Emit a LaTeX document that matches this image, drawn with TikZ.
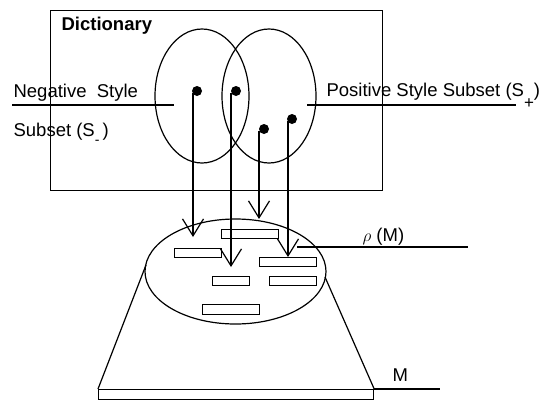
\documentclass[tikz,border=0pt]{standalone}
\usepackage{fontspec}
\setmainfont{Liberation Sans}
\usetikzlibrary{shapes.geometric,arrows.meta}
\newcommand{\lowminus}{\raisebox{-8pt}{\fontsize{14}{14}\selectfont -}}
\newcommand{\lowplus}{\raisebox{-12pt}{\fontsize{17}{17}\selectfont +}}
\begin{document}
\begin{tikzpicture}[x=1pt,y=-1pt,line width=1.2pt,
  lbl/.style={font=\fontsize{18.5}{20}\selectfont,anchor=base west,inner sep=0pt},
  dotnode/.style={circle,fill=black,inner sep=0pt,minimum size=10pt},
  slot/.style={draw,rectangle,inner sep=0pt,anchor=north west},
  venn/.style={draw,ellipse,inner sep=0pt,minimum width=94pt,minimum height=134pt},
  arr/.style={-{Straight Barb[length=17pt,width=21pt,line width=1.2pt]}}]
\useasboundingbox (0,0) rectangle (540,400);
% dictionary box
\node[draw,rectangle,inner sep=0pt,minimum width=332pt,minimum height=180pt,anchor=north west] (dict) at (50,10) {};
\node[lbl,font=\fontsize{18.5}{20}\selectfont\bfseries] (dtitle) at (61,30) {Dictionary};
% Venn ellipses
\node[venn] (L) at (202,96) {};
\node[venn] (R) at (269,96) {};
% labels
\node[lbl] (neg) at (13,97) {Negative\ \ Style};
\node[lbl] (negs) at (13,136) {Subset (S\lowminus\,)};
\node[lbl] (pos) at (326,96) {Positive Style Subset (S\lowplus)};
\coordinate (n1) at (12,105); \coordinate (n2) at (174,105);
\coordinate (p1) at (307,105); \coordinate (p2) at (516,105);
\draw (n1) -- (n2);
\draw (p1) -- (p2);
% dots
\node[dotnode] (d1) at (197,91) {};
\node[dotnode] (d2) at (236,91) {};
\node[dotnode] (d3) at (264,129) {};
\node[dotnode] (d4) at (292,119) {};
\coordinate (s1) at (193,93); \coordinate (s2) at (231,93);
\coordinate (s3) at (259,131); \coordinate (s4) at (288,121);
\coordinate (t1) at (193,237); \coordinate (t2) at (231,267);
\coordinate (t3) at (259,219); \coordinate (t4) at (288,257);
\draw[arr] (s1) -- (t1);
\draw[arr] (s2) -- (t2);
\draw[arr] (s3) -- (t3);
\draw[arr] (s4) -- (t4);
% model ellipse
\node[draw,ellipse,inner sep=0pt,minimum width=181pt,minimum height=105pt] (E) at (235.5,271.5) {};
\node[slot,minimum width=47pt,minimum height=9pt] (r1) at (174,248) {};
\node[slot,minimum width=57pt,minimum height=9pt] (r2) at (221,229) {};
\node[slot,minimum width=57pt,minimum height=9pt] (r3) at (259,257) {};
\node[slot,minimum width=37pt,minimum height=9pt] (r4) at (212,276) {};
\node[slot,minimum width=47pt,minimum height=9pt] (r5) at (269,276) {};
\node[slot,minimum width=57pt,minimum height=10pt] (r6) at (202,304) {};
% trapezoid and base
\coordinate (el) at (146,265); \coordinate (er) at (325,277);
\node[draw,rectangle,inner sep=0pt,minimum width=275pt,minimum height=10pt,anchor=north west] (base) at (98,389) {};
\draw (el) -- (base.north west);
\draw (er) -- (base.north east);
% rho label
\coordinate (q1) at (297,247); \coordinate (q2) at (468,247);
\draw (q1) -- (q2);
\node[lbl] (rho) at (362,241) {$\rho$ (M)};
% M label
\coordinate (m2) at (440,389);
\draw (base.north east) -- (m2);
\node[lbl] (mlab) at (392,381) {M};
\end{tikzpicture}
\end{document}
